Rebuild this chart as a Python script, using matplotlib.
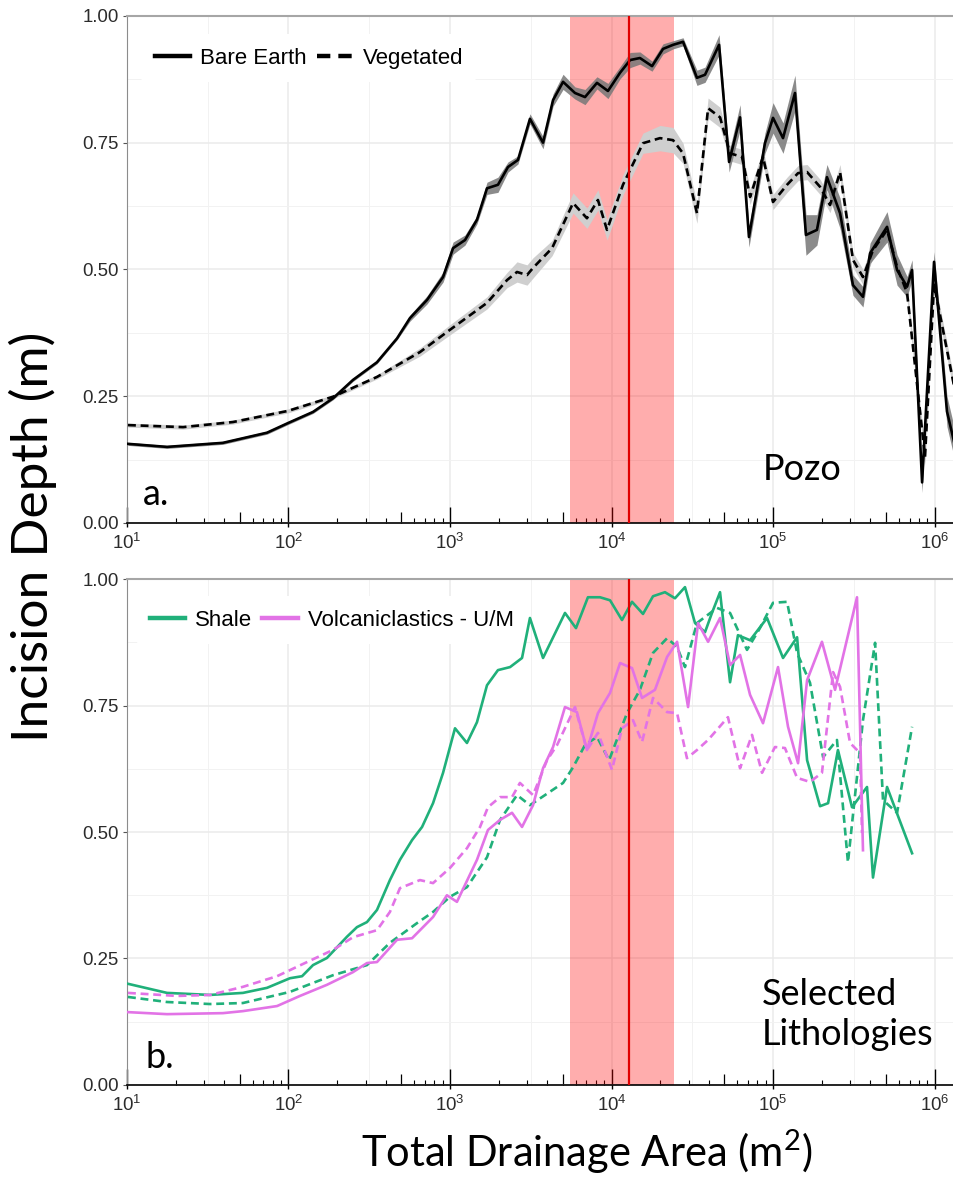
import numpy as np
import matplotlib
matplotlib.use('Agg')
import matplotlib.pyplot as plt
from matplotlib.ticker import LogLocator, FixedLocator, FormatStrFormatter, NullFormatter

plt.rcParams['font.family'] = ['Liberation Sans', 'DejaVu Sans']

# ---- data (log10 of drainage area, incision depth in m) ----
bare_log = [1.006, 1.248, 1.594, 1.867, 1.997, 2.152, 2.276, 2.399, 2.548, 2.672,
            2.752, 2.858, 2.957, 3.019, 3.093, 3.167, 3.229, 3.297, 3.359, 3.421,
            3.495, 3.576, 3.638, 3.700, 3.774, 3.836, 3.910, 3.978, 4.053, 4.115,
            4.176, 4.251, 4.319, 4.381, 4.443, 4.529, 4.579, 4.666, 4.728, 4.796,
            4.851, 4.950, 5.000, 5.062, 5.136, 5.204, 5.272, 5.334, 5.415, 5.495,
            5.557, 5.601, 5.706, 5.768, 5.830, 5.861, 5.923, 5.997, 6.077, 6.121]
bare_depth = [0.156, 0.150, 0.158, 0.178, 0.197, 0.219, 0.246, 0.282, 0.317, 0.364,
              0.404, 0.440, 0.485, 0.542, 0.558, 0.598, 0.660, 0.667, 0.702, 0.716,
              0.797, 0.750, 0.834, 0.870, 0.848, 0.840, 0.868, 0.852, 0.888, 0.913,
              0.917, 0.901, 0.935, 0.943, 0.949, 0.878, 0.884, 0.943, 0.712, 0.800,
              0.564, 0.749, 0.799, 0.759, 0.848, 0.568, 0.578, 0.682, 0.611, 0.469,
              0.446, 0.532, 0.584, 0.499, 0.466, 0.499, 0.080, 0.515, 0.220, 0.160]
bare_se = [0.003, 0.003, 0.003, 0.003, 0.003, 0.003, 0.003, 0.003, 0.003, 0.003,
           0.006, 0.008, 0.010, 0.012, 0.010, 0.008, 0.012, 0.015, 0.010, 0.008,
           0.010, 0.012, 0.012, 0.015, 0.012, 0.015, 0.012, 0.015, 0.012, 0.015,
           0.012, 0.010, 0.010, 0.008, 0.008, 0.015, 0.015, 0.020, 0.020, 0.025,
           0.020, 0.020, 0.030, 0.030, 0.035, 0.040, 0.030, 0.025, 0.030, 0.020,
           0.020, 0.020, 0.030, 0.030, 0.020, 0.020, 0.020, 0.020, 0.030, 0.030]

veg_log = [1.006, 1.347, 1.656, 1.997, 2.276, 2.548, 2.814, 3.000, 3.229, 3.353,
           3.415, 3.477, 3.514, 3.632, 3.762, 3.848, 3.916, 3.972, 4.071, 4.195,
           4.300, 4.381, 4.443, 4.529, 4.598, 4.672, 4.734, 4.808, 4.858, 4.938,
           5.000, 5.087, 5.155, 5.211, 5.291, 5.353, 5.415, 5.495, 5.557, 5.619,
           5.706, 5.768, 5.830, 5.941, 5.997, 6.121]
veg_depth = [0.193, 0.189, 0.199, 0.221, 0.249, 0.288, 0.337, 0.381, 0.434, 0.479,
             0.495, 0.489, 0.503, 0.542, 0.631, 0.601, 0.637, 0.578, 0.667, 0.749,
             0.759, 0.755, 0.729, 0.611, 0.818, 0.800, 0.729, 0.722, 0.643, 0.722,
             0.633, 0.667, 0.690, 0.692, 0.663, 0.627, 0.692, 0.519, 0.485, 0.538,
             0.578, 0.505, 0.454, 0.130, 0.470, 0.270]
veg_se = [0.004, 0.004, 0.004, 0.004, 0.004, 0.004, 0.008, 0.010, 0.012, 0.015,
          0.020, 0.020, 0.020, 0.015, 0.020, 0.020, 0.020, 0.020, 0.020, 0.020,
          0.025, 0.025, 0.020, 0.020, 0.020, 0.020, 0.015, 0.015, 0.015, 0.015,
          0.015, 0.015, 0.015, 0.015, 0.015, 0.015, 0.015, 0.015, 0.015, 0.015,
          0.015, 0.015, 0.015, 0.015, 0.015, 0.015]

shale_log = [1.006, 1.248, 1.514, 1.718, 1.867, 2.009, 2.084, 2.152, 2.238, 2.362,
             2.424, 2.486, 2.548, 2.628, 2.690, 2.765, 2.827, 2.895, 2.957, 3.031,
             3.105, 3.167, 3.229, 3.297, 3.372, 3.446, 3.495, 3.576, 3.712, 3.780,
             3.854, 3.929, 3.991, 4.065, 4.127, 4.195, 4.257, 4.331, 4.393, 4.455,
             4.517, 4.579, 4.622, 4.672, 4.734, 4.783, 4.858, 4.963, 5.062, 5.149,
             5.211, 5.291, 5.341, 5.402, 5.489, 5.582, 5.619, 5.706, 5.861]
shale_depth = [0.200, 0.182, 0.178, 0.182, 0.192, 0.211, 0.215, 0.237, 0.251, 0.293,
               0.312, 0.322, 0.346, 0.405, 0.445, 0.484, 0.510, 0.557, 0.617, 0.705,
               0.676, 0.717, 0.790, 0.820, 0.826, 0.844, 0.923, 0.844, 0.933, 0.903,
               0.964, 0.964, 0.958, 0.919, 0.955, 0.931, 0.966, 0.974, 0.962, 0.984,
               0.913, 0.895, 0.933, 0.974, 0.796, 0.889, 0.879, 0.923, 0.844, 0.885,
               0.642, 0.551, 0.557, 0.662, 0.549, 0.589, 0.410, 0.589, 0.458]

shale_veg_log = [1.006, 1.248, 1.514, 1.718, 2.009, 2.276, 2.486, 2.628, 2.796, 2.895,
                 3.000, 3.105, 3.229, 3.310, 3.415, 3.495, 3.700, 3.762, 3.836, 3.910,
                 3.985, 4.096, 4.176, 4.257, 4.344, 4.406, 4.455, 4.529, 4.579, 4.653,
                 4.734, 4.839, 4.919, 5.000, 5.087, 5.149, 5.229, 5.310, 5.396, 5.464,
                 5.557, 5.632, 5.681, 5.768, 5.861]
shale_veg_depth = [0.174, 0.164, 0.160, 0.162, 0.184, 0.217, 0.237, 0.281, 0.320, 0.342,
                   0.372, 0.391, 0.450, 0.524, 0.573, 0.553, 0.597, 0.628, 0.672, 0.688,
                   0.642, 0.735, 0.781, 0.854, 0.883, 0.866, 0.826, 0.913, 0.925, 0.943,
                   0.933, 0.860, 0.903, 0.953, 0.955, 0.854, 0.795, 0.648, 0.682, 0.440,
                   0.721, 0.874, 0.563, 0.538, 0.708]

volc_log = [1.006, 1.248, 1.594, 1.718, 1.929, 2.071, 2.238, 2.399, 2.486, 2.548,
            2.672, 2.765, 2.895, 2.981, 3.043, 3.167, 3.235, 3.310, 3.384, 3.446,
            3.514, 3.576, 3.638, 3.712, 3.786, 3.848, 3.916, 3.991, 4.053, 4.127,
            4.189, 4.269, 4.344, 4.406, 4.474, 4.536, 4.598, 4.672, 4.734, 4.796,
            4.858, 4.938, 5.031, 5.093, 5.155, 5.211, 5.303, 5.384, 5.520, 5.557]
volc_depth = [0.144, 0.140, 0.142, 0.146, 0.156, 0.176, 0.198, 0.223, 0.241, 0.243,
              0.287, 0.290, 0.332, 0.375, 0.362, 0.445, 0.504, 0.524, 0.538, 0.510,
              0.553, 0.626, 0.668, 0.747, 0.737, 0.662, 0.735, 0.775, 0.834, 0.824,
              0.765, 0.781, 0.846, 0.876, 0.747, 0.913, 0.876, 0.923, 0.830, 0.850,
              0.771, 0.715, 0.826, 0.708, 0.636, 0.800, 0.876, 0.781, 0.964, 0.464]

volc_veg_log = [1.006, 1.310, 1.514, 1.718, 1.929, 2.115, 2.276, 2.399, 2.548, 2.628,
                2.690, 2.814, 2.895, 3.000, 3.105, 3.186, 3.235, 3.310, 3.384, 3.433,
                3.514, 3.601, 3.663, 3.774, 3.848, 3.916, 4.003, 4.065, 4.133, 4.189,
                4.257, 4.344, 4.406, 4.467, 4.529, 4.598, 4.721, 4.796, 4.870, 4.932,
                5.012, 5.074, 5.149, 5.229, 5.303, 5.372, 5.415, 5.477, 5.539, 5.551]
volc_veg_depth = [0.182, 0.176, 0.178, 0.194, 0.215, 0.243, 0.267, 0.292, 0.306, 0.342,
                  0.389, 0.405, 0.399, 0.429, 0.468, 0.510, 0.549, 0.569, 0.569, 0.597,
                  0.573, 0.642, 0.672, 0.747, 0.662, 0.696, 0.623, 0.705, 0.721, 0.678,
                  0.765, 0.737, 0.735, 0.646, 0.662, 0.682, 0.727, 0.626, 0.692, 0.617,
                  0.668, 0.666, 0.607, 0.599, 0.617, 0.816, 0.787, 0.676, 0.656, 0.498]

band_lo, band_hi = 5.5e3, 2.45e4
threshold = 1.28e4

green = '#20b07a'
pink = '#e273e6'
dash = (0, (3.0, 1.8))
calibri_like = ['Lato', 'DejaVu Sans']

fig = plt.figure(figsize=(9.54, 11.81), dpi=100)
ax1 = fig.add_axes([0.1331, 0.5572, 0.8669, 0.4293])
ax2 = fig.add_axes([0.1331, 0.0813, 0.8669, 0.4284])


def style_axis(ax):
    ax.set_xscale('log')
    ax.set_xlim(10, 1.32e6)
    ax.set_ylim(0, 1)
    ax.yaxis.set_major_locator(FixedLocator([0, 0.25, 0.5, 0.75, 1.0]))
    ax.yaxis.set_major_formatter(FormatStrFormatter('%.2f'))
    ax.yaxis.set_minor_locator(FixedLocator([0.125, 0.375, 0.625, 0.875]))
    ax.xaxis.set_major_locator(LogLocator(base=10, numticks=12))
    ax.xaxis.set_minor_locator(LogLocator(base=10, subs=[2, 3, 4, 6, 7, 8, 9], numticks=40))
    ax.xaxis.set_minor_formatter(NullFormatter())
    ax.grid(which='major', color='#ebebeb', lw=1.1, zorder=0)
    ax.grid(which='minor', axis='y', color='#f2f2f2', lw=0.7, zorder=0)
    for d in np.arange(1, 7) + 0.5:
        ax.axvline(10 ** d, color='#f2f2f2', lw=0.7, zorder=0)
    ax.set_axisbelow(True)
    ax.tick_params(axis='x', which='major', direction='in', length=11.5, width=1.0,
                   color='black', labelsize=13.4, labelcolor='#2b2b2b', pad=7)
    ax.tick_params(axis='x', which='minor', direction='in', length=3.6, width=0.8, color='black')
    ax.tick_params(axis='y', which='major', direction='out', length=3, width=0.8,
                   color='#555555', labelsize=13.4, labelcolor='#2b2b2b', pad=3)
    ax.tick_params(axis='y', which='minor', length=0)
    ax.spines['right'].set_visible(False)
    ax.spines['top'].set_color('#a6a6a6')
    ax.spines['top'].set_linewidth(1.5)
    ax.spines['left'].set_color('#8c8c8c')
    ax.spines['bottom'].set_color('black')
    ax.spines['bottom'].set_linewidth(1.2)
    # mid (5x) log ticks and short outward decade ticks
    sec = ax.secondary_xaxis('bottom')
    sec.xaxis.set_major_locator(LogLocator(base=10, subs=[5.0], numticks=40))
    sec.xaxis.set_minor_locator(LogLocator(base=10, subs=[1.0], numticks=40))
    sec.tick_params(which='major', direction='in', length=8, width=0.9, color='black',
                    labelbottom=False)
    sec.tick_params(which='minor', direction='out', length=3, width=1.0, color='black',
                    labelbottom=False)
    sec.xaxis.set_minor_formatter(NullFormatter())
    sec.xaxis.set_major_formatter(NullFormatter())
    sec.spines['bottom'].set_visible(False)
    ax.axvspan(band_lo, band_hi, color='#ff0000', alpha=0.32, lw=0, zorder=1)
    ax.axvline(threshold, color='#e00000', lw=1.6, zorder=5)


style_axis(ax1)
style_axis(ax2)

# panel a
x_bare = 10 ** np.array(bare_log)
x_veg = 10 ** np.array(veg_log)
yb = np.array(bare_depth)
yv = np.array(veg_depth)
ax1.fill_between(x_veg, yv - np.array(veg_se), yv + np.array(veg_se),
                 color='#cfcfcf', lw=0, zorder=2)
ax1.fill_between(x_bare, yb - np.array(bare_se), yb + np.array(bare_se),
                 color='#777777', alpha=0.85, lw=0, zorder=2)
l1, = ax1.plot(x_bare, yb, color='black', lw=1.9, zorder=3, label='Bare Earth')
l2, = ax1.plot(x_veg, yv, color='black', lw=1.9, ls=dash, zorder=3, label='Vegetated')

leg1 = ax1.legend(handles=[l1, l2], ncol=2, loc='center left', bbox_to_anchor=(0.004, 0.917),
                  fontsize=16, frameon=True, facecolor='white', edgecolor='none', framealpha=1,
                  handlelength=1.6, handletextpad=0.45, columnspacing=0.45, borderpad=0.6)
leg1.set_zorder(2.5)
for ln in leg1.get_lines():
    ln.set_linewidth(3.2)

ax1.text(0.019, 0.035, 'a.', transform=ax1.transAxes, fontsize=26, family=calibri_like,
         va='baseline', ha='left', zorder=11)
ax1.text(0.769, 0.085, 'Pozo', transform=ax1.transAxes, fontsize=26, family=calibri_like,
         va='baseline', ha='left', zorder=11)

# panel b
h1, = ax2.plot(10 ** np.array(shale_log), shale_depth, color=green, lw=1.9, zorder=3, label='Shale')
ax2.plot(10 ** np.array(shale_veg_log), shale_veg_depth, color=green, lw=1.9, ls=dash, zorder=3)
h2, = ax2.plot(10 ** np.array(volc_log), volc_depth, color=pink, lw=1.9, zorder=3,
               label='Volcaniclastics - U/M')
ax2.plot(10 ** np.array(volc_veg_log), volc_veg_depth, color=pink, lw=1.9, ls=dash, zorder=3)

leg2 = ax2.legend(handles=[h1, h2], ncol=2, loc='center left', bbox_to_anchor=(-0.002, 0.919),
                  fontsize=16, frameon=True, facecolor='white', edgecolor='none', framealpha=1,
                  handlelength=1.6, handletextpad=0.45, columnspacing=0.45, borderpad=0.6)
leg2.set_zorder(2.5)
for ln in leg2.get_lines():
    ln.set_linewidth(3.2)

ax2.text(0.022, 0.034, 'b.', transform=ax2.transAxes, fontsize=26, family=calibri_like,
         va='baseline', ha='left', zorder=11)
ax2.text(0.768, 0.079, 'Selected\nLithologies', transform=ax2.transAxes, fontsize=26,
         family=calibri_like, va='baseline', ha='left', linespacing=1.25, zorder=11)

fig.text(0.035, 1 - 537 / 1181, 'Incision Depth (m)', rotation=90, fontsize=37,
         family=calibri_like, ha='center', va='center')
fig.text(587 / 954, 1 - 1152 / 1181, r'Total Drainage Area (m$\mathdefault{^{2}}$)', fontsize=30,
         family=calibri_like, ha='center', va='center')

fig.savefig('out.png', dpi=100)
